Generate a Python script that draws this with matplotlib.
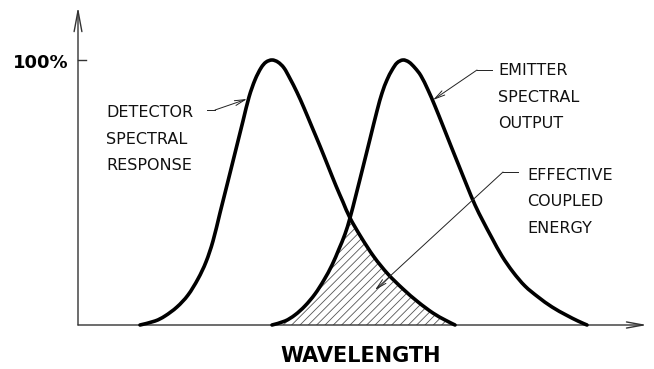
import matplotlib
matplotlib.use("Agg")
import matplotlib.pyplot as plt
from matplotlib.path import Path
from matplotlib.patches import PathPatch

# ---- data (wavelength in arbitrary units, response in %) ----
detector_wl = [62, 77, 87, 99, 110, 120, 128, 135, 142, 150, 158, 165, 171, 177, 183, 188, 194,
               200, 206, 212, 219, 226, 234, 242, 250, 258, 265, 272, 283, 296, 310, 325, 340,
               355, 367, 377]
detector_pct = [0, 1.5, 3.4, 6.8, 11.3, 17.4, 23.8, 31.7, 42.3, 54.3, 66.4, 77.0, 86.0, 92.5,
                97.0, 99.2, 100, 99.2, 97.0, 93.0, 87.8, 81.9, 74.7, 67.5, 60.0, 52.5, 46.4,
                40.4, 33.2, 25.7, 19.2, 13.6, 8.7, 4.5, 1.9, 0]

emitter_wl = [194, 207, 217, 227, 237, 246, 254, 261, 267, 272, 278, 285, 292, 299, 304, 309,
              314, 319, 325, 331, 337, 343, 350, 357, 365, 373, 381, 389, 397, 405, 414, 424,
              435, 447, 460, 474, 488, 500, 509]
emitter_pct = [0, 1.5, 3.8, 7.2, 11.7, 17.0, 22.6, 28.7, 34.3, 40.4, 49.1, 59.6, 70.2, 80.8,
               87.5, 92.5, 96.2, 98.9, 100, 99.2, 97.0, 94.0, 88.7, 82.6, 75.1, 67.5, 60.0,
               52.5, 45.3, 39.2, 32.8, 26.0, 20.0, 14.7, 10.6, 6.8, 3.8, 1.5, 0]

crossing_wl = 272  # where the two curves cross (shared point of both series)

y_tick_label = "100%"
x_axis_label = "WAVELENGTH"
detector_label = ["DETECTOR", "SPECTRAL", "RESPONSE"]
emitter_label = ["EMITTER", "SPECTRAL", "OUTPUT"]
coupled_label = ["EFFECTIVE", "COUPLED", "ENERGY"]

# ---- figure setup ----
W, H = 654, 369
X0, Y0, YSCALE = 78, 325, 2.65  # pixel origin of the axes, pixels per percent


def px(x, y):
    """pixel position in the picture -> data coordinates"""
    return (x - X0, (Y0 - y) / YSCALE)


plt.rcParams['hatch.linewidth'] = 0.6
fig = plt.figure(figsize=(W / 100, H / 100), dpi=100)
ax = fig.add_axes([0, 0, 1, 1])
ax.set_xlim(-X0, W - X0)
ax.set_ylim((Y0 - H) / YSCALE, Y0 / YSCALE)
ax.axis('off')


def cr_segments(xs, ys):
    """Catmull-Rom control points so the library draws a smooth Bezier through the points"""
    pts = list(zip(xs, ys))
    n = len(pts)
    segs = []
    for i in range(n - 1):
        p0 = pts[i - 1] if i > 0 else pts[i]
        p1 = pts[i]
        p2 = pts[i + 1]
        p3 = pts[i + 2] if i + 2 < n else pts[i + 1]
        c1 = (p1[0] + (p2[0] - p0[0]) / 6, p1[1] + (p2[1] - p0[1]) / 6)
        c2 = (p2[0] - (p3[0] - p1[0]) / 6, p2[1] - (p3[1] - p1[1]) / 6)
        segs.append((p1, c1, c2, p2))
    return segs


def segs_to_path_parts(segs, start=True):
    verts, codes = [], []
    if start:
        verts.append(segs[0][0]); codes.append(Path.MOVETO)
    for (_, c1, c2, p2) in segs:
        verts += [c1, c2, p2]
        codes += [Path.CURVE4] * 3
    return verts, codes


det_segs = cr_segments(detector_wl, detector_pct)
emi_segs = cr_segments(emitter_wl, emitter_pct)

# hatched overlap region: emitter rising edge up to the crossing, detector falling edge after it
ei = emitter_wl.index(crossing_wl)
di = detector_wl.index(crossing_wl)
v1, c1 = segs_to_path_parts(emi_segs[:ei], start=True)
v2, c2 = segs_to_path_parts(det_segs[di:], start=False)
verts = v1 + v2 + [(emitter_wl[0], 0), (emitter_wl[0], 0)]
codes = c1 + c2 + [Path.LINETO, Path.CLOSEPOLY]
ax.add_patch(PathPatch(Path(verts, codes), facecolor='none', edgecolor='#555555',
                       hatch='////', linewidth=0, zorder=1))

# curves
for segs in (det_segs, emi_segs):
    v, c = segs_to_path_parts(segs)
    ax.add_patch(PathPatch(Path(v, c), facecolor='none', edgecolor='black',
                           linewidth=2.6, capstyle='round', joinstyle='round', zorder=3))

# axes with open arrowheads
axis_col = '#333333'
ax.annotate('', xy=px(647, 325), xytext=px(78, 325),
            arrowprops=dict(arrowstyle='->,head_length=1.2,head_width=0.22',
                            lw=1.0, color=axis_col, mutation_scale=10,
                            shrinkA=0, shrinkB=0), zorder=2)
ax.annotate('', xy=px(78, 7), xytext=px(78, 325),
            arrowprops=dict(arrowstyle='->,head_length=1.5,head_width=0.28',
                            lw=1.0, color=axis_col, mutation_scale=10,
                            shrinkA=0, shrinkB=0), zorder=2)
# 100% tick
ax.plot(*zip(px(78, 60), px(86, 60)), color=axis_col, lw=1.0)

ax.text(*px(13, 68), y_tick_label, fontsize=13, fontweight='bold',
        family='DejaVu Sans', ha='left', va='baseline')
ax.text(*px(280, 362), x_axis_label, fontsize=15, fontweight='bold',
        family='DejaVu Sans', ha='left', va='baseline')

# labels
lab_kw = dict(fontsize=11.5, family='DejaVu Sans', ha='left', va='baseline', color='#111111')
for txt, yb in zip(detector_label, (117, 143.5, 170)):
    ax.text(*px(106, yb), txt, **lab_kw)
for txt, yb in zip(emitter_label, (75, 101.5, 128)):
    ax.text(*px(498, yb), txt, **lab_kw)
for txt, yb in zip(coupled_label, (180, 206.5, 233)):
    ax.text(*px(527, yb), txt, **lab_kw)

# leader lines with small open arrowheads
lead_kw = dict(arrowstyle='->,head_length=0.75,head_width=0.18', lw=0.7,
               color='#222222', mutation_scale=10, shrinkA=0, shrinkB=0)
leaders = [((207, 110), (215, 110), (247, 99)),
           ((492, 70), (477, 70), (433, 100)),
           ((518, 172), (503, 172), (375, 290))]
for a, b, tip in leaders:
    ax.plot(*zip(px(*a), px(*b)), color='#222222', lw=0.7)
    ax.annotate('', xy=px(*tip), xytext=px(*b), arrowprops=lead_kw)

fig.savefig('out.png', dpi=100)
